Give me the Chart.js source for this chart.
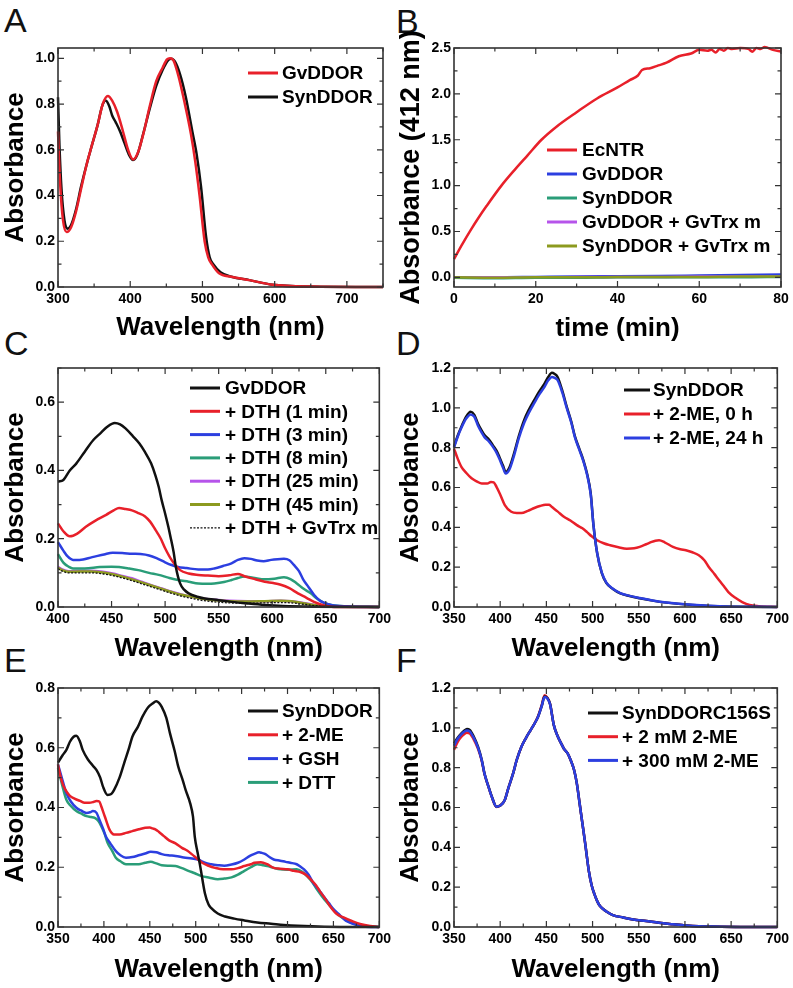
<!DOCTYPE html>
<html>
<head>
<meta charset="utf-8">
<script src="https://cdn.jsdelivr.net/npm/chart.js@4.4.1/dist/chart.umd.min.js"></script>
<style>
body{margin:0;background:#fff;width:793px;height:988px;position:relative;overflow:hidden;font-family:"Liberation Sans",Arial,sans-serif}
canvas{position:absolute}
.lbl{position:absolute;font-size:34px;line-height:34px;color:#111}
</style>
</head>
<body>
<div class="lbl" style="left:4px;top:3px">A</div>
<div class="lbl" style="left:396px;top:4px">B</div>
<div class="lbl" style="left:4px;top:326px">C</div>
<div class="lbl" style="left:396px;top:326px">D</div>
<div class="lbl" style="left:4px;top:643px">E</div>
<div class="lbl" style="left:396px;top:643px">F</div>
<canvas id="cA" width="395" height="345" style="left:0;top:0"></canvas>
<canvas id="cB" width="398" height="345" style="left:395px;top:0"></canvas>
<canvas id="cC" width="395" height="345" style="left:0;top:320px"></canvas>
<canvas id="cD" width="398" height="345" style="left:395px;top:320px"></canvas>
<canvas id="cE" width="395" height="348" style="left:0;top:640px"></canvas>
<canvas id="cF" width="398" height="348" style="left:395px;top:640px"></canvas>
<script>
// ---- panel A : GvDDOR vs SynDDOR spectra
const aGvWl  = [300,303,307,312,318,325,332,340,347,355,362,369,375,382,390,397,404,411,419,427,436,445,451,455,460,467,475,484,490,496,503,508,513,523,540,565,597,650,750];
const aGvAbs = [0.68,0.45,0.29,0.24,0.26,0.33,0.43,0.54,0.62,0.71,0.80,0.835,0.815,0.765,0.68,0.60,0.557,0.59,0.68,0.79,0.90,0.96,0.995,1.0,0.99,0.92,0.81,0.67,0.55,0.40,0.20,0.13,0.10,0.06,0.045,0.03,0.01,0.002,0.0];
const aSynWl  = [300,302,305,309,313,318,325,332,340,347,355,361,366,371,375,380,386,392,398,404,410,418,427,436,445,452,457,462,469,477,486,492,498,505,510,515,525,540,565,597,650,750];
const aSynAbs = [0.83,0.62,0.42,0.29,0.255,0.27,0.34,0.44,0.54,0.62,0.71,0.79,0.815,0.79,0.75,0.72,0.68,0.63,0.58,0.555,0.58,0.67,0.78,0.88,0.95,0.99,0.998,0.985,0.93,0.83,0.68,0.58,0.44,0.22,0.13,0.10,0.065,0.045,0.03,0.01,0.002,0.0];
const aXTicks = [300,400,500,600,700];
const aYTicks = [0,0.2,0.4,0.6,0.8,1.0];

// ---- panel B : DTNB reduction at 412 nm
const bTime   = [0,2,4,6,8,11.6,15,18,21.4,25,30,35,40,43,45,46,48,50,52,55,58,60,62,63,64,65,66,67,68,70,72,73,74,75,76,78,80];
const bEcNTR  = [0.20,0.36,0.51,0.65,0.78,1.0,1.18,1.33,1.5,1.64,1.8,1.95,2.07,2.15,2.2,2.26,2.28,2.31,2.34,2.41,2.44,2.48,2.47,2.48,2.45,2.49,2.47,2.5,2.49,2.5,2.49,2.46,2.5,2.49,2.51,2.48,2.46];
const bLowTime = [0,10,20,30,40,50,60,70,80];
const bGv      = [0.0,0.0,0.005,0.01,0.012,0.015,0.02,0.025,0.03];
const bSyn     = [-0.005,-0.01,-0.005,-0.005,0.0,0.0,0.0,0.0,0.005];
const bGvTrx   = [0.0,0.0,0.0,0.005,0.005,0.005,0.01,0.01,0.01];
const bSynTrx  = [0.0,-0.005,0.0,0.0,0.005,0.005,0.005,0.01,0.01];
const bXTicks = [0,20,40,60,80];
const bYTicks = [0,0.5,1.0,1.5,2.0,2.5];

// ---- panel C : GvDDOR + dithionite
const cGvWl  = [400,405,411,417,425,433,440,446,453,458,463,470,476,481,487,491,494,497,500,503,505,508,510,514,518,522,530,537,550,562,578,593,610,640,700];
const cGvAbs = [0.367,0.372,0.40,0.42,0.455,0.489,0.51,0.528,0.539,0.535,0.523,0.50,0.479,0.455,0.42,0.385,0.352,0.31,0.274,0.235,0.206,0.16,0.118,0.069,0.05,0.04,0.03,0.025,0.02,0.015,0.01,0.006,0.003,0.001,0.0];
const cDth1Wl  = [400,405,411,418,426,435,445,452,457,463,469,475,481,486,491,496,500,506,514,522,531,540,550,560,568,574,582,593,601,608,616,624,632,639,647,655,670,700];
const cDth1Abs = [0.245,0.222,0.207,0.215,0.235,0.253,0.27,0.283,0.29,0.287,0.283,0.275,0.266,0.25,0.226,0.2,0.172,0.138,0.108,0.098,0.094,0.092,0.09,0.093,0.097,0.09,0.083,0.074,0.07,0.065,0.055,0.04,0.027,0.015,0.006,0.001,0.0,0.0];
const cDth3Wl  = [400,405,409,414,420,432,443,451,460,469,477,485,492,500,506,512,520,531,540,546,554,562,568,574,580,586,592,599,605,611,616,620,625,629,634,639,644,648,655,669,700];
const cDth3Abs = [0.19,0.165,0.148,0.138,0.138,0.146,0.154,0.159,0.158,0.156,0.155,0.151,0.143,0.131,0.123,0.117,0.114,0.11,0.11,0.113,0.12,0.128,0.138,0.143,0.141,0.136,0.134,0.138,0.14,0.141,0.137,0.124,0.105,0.08,0.058,0.036,0.02,0.013,0.006,0.002,0.0];
const cDth8Wl  = [400,405,410,414,425,439,450,457,466,475,485,494,503,512,522,531,540,546,555,562,568,574,582,593,602,611,617,623,629,636,642,648,655,663,700];
const cDth8Abs = [0.155,0.13,0.118,0.113,0.113,0.117,0.118,0.117,0.113,0.108,0.1,0.094,0.086,0.079,0.074,0.069,0.068,0.069,0.073,0.079,0.085,0.089,0.086,0.081,0.083,0.087,0.082,0.069,0.054,0.04,0.024,0.013,0.006,0.003,0.0];
const cLateWl   = [400,404,410,420,430,440,451,460,469,478,487,497,506,515,525,535,546,560,577,593,608,618,629,640,655,700];
const cDth25Abs = [0.118,0.11,0.105,0.106,0.106,0.104,0.098,0.091,0.084,0.074,0.064,0.054,0.045,0.037,0.03,0.025,0.021,0.018,0.017,0.017,0.018,0.017,0.012,0.006,0.002,0.0];
const cDth45Abs = [0.115,0.108,0.103,0.104,0.104,0.102,0.096,0.089,0.081,0.072,0.063,0.053,0.044,0.036,0.03,0.024,0.02,0.017,0.016,0.017,0.018,0.017,0.011,0.005,0.002,0.0];
const cTrxAbs   = [0.112,0.105,0.1,0.1,0.1,0.098,0.092,0.085,0.077,0.068,0.059,0.049,0.04,0.032,0.025,0.019,0.015,0.012,0.011,0.012,0.013,0.012,0.008,0.004,0.001,0.0];
const cXTicks = [400,450,500,550,600,650,700];
const cYTicks = [0,0.2,0.4,0.6];

// ---- panel D : SynDDOR + 2-ME
const dSynWl  = [350,354,358,363,368,372,376,380,383,388,392,396,399,403,406,410,415,420,426,431,437,442,448,452,456,459,462,467,472,477,481,486,490,494,498,501,505,510,515,522,530,540,551,565,580,608,644,700];
const dSynAbs = [0.805,0.86,0.905,0.955,0.98,0.965,0.92,0.885,0.863,0.84,0.813,0.785,0.755,0.71,0.678,0.7,0.771,0.855,0.939,0.99,1.04,1.08,1.122,1.155,1.176,1.17,1.156,1.09,1.006,0.93,0.855,0.79,0.738,0.67,0.57,0.41,0.27,0.17,0.12,0.09,0.068,0.055,0.044,0.032,0.022,0.01,0.002,0.0];
const dMe24Abs = [0.80,0.855,0.9,0.945,0.967,0.955,0.91,0.875,0.853,0.83,0.805,0.775,0.745,0.7,0.67,0.69,0.76,0.845,0.925,0.975,1.025,1.065,1.105,1.138,1.155,1.15,1.14,1.08,1.0,0.925,0.85,0.785,0.733,0.665,0.565,0.41,0.27,0.172,0.122,0.092,0.07,0.056,0.045,0.033,0.023,0.011,0.003,0.0];
const dMe0Wl  = [350,354,358,363,369,375,380,386,390,393,396,400,405,412,418,423,430,437,443,449,453,456,462,469,476,483,489,494,499,505,512,519,528,537,545,551,558,564,568,572,578,587,595,601,608,615,621,626,632,637,642,647,655,662,670,680,700];
const dMe0Abs = [0.795,0.745,0.704,0.675,0.646,0.63,0.62,0.62,0.628,0.626,0.603,0.565,0.512,0.478,0.472,0.472,0.483,0.497,0.507,0.514,0.513,0.502,0.48,0.453,0.434,0.411,0.395,0.376,0.355,0.335,0.32,0.31,0.3,0.293,0.295,0.302,0.315,0.327,0.333,0.335,0.325,0.302,0.29,0.285,0.275,0.26,0.235,0.2,0.165,0.134,0.105,0.075,0.045,0.025,0.01,0.004,0.0];
const dXTicks = [350,400,450,500,550,600,650,700];
const dYTicks = [0,0.2,0.4,0.6,0.8,1.0,1.2];

// ---- panel E : SynDDOR + reductants
const eSynWl  = [350,355,359,363,367,370,374,377,383,388,392,396,399,404,408,411,417,422,427,431,437,442,448,453,457,460,463,468,472,477,481,486,489,494,497,499,502,505,510,514,517,524,532,542,553,567,582,596,611,640,700];
const eSynAbs = [0.55,0.575,0.592,0.62,0.637,0.64,0.62,0.592,0.559,0.54,0.525,0.5,0.47,0.442,0.445,0.458,0.5,0.548,0.595,0.637,0.67,0.704,0.735,0.748,0.756,0.75,0.737,0.7,0.648,0.59,0.537,0.49,0.459,0.414,0.37,0.302,0.25,0.202,0.113,0.075,0.063,0.045,0.035,0.028,0.022,0.015,0.011,0.007,0.004,0.001,0.0];
const eMeWl  = [350,353,356,360,363,368,374,379,384,388,392,395,397,401,406,411,417,424,431,438,445,450,453,456,460,465,471,478,485,491,496,501,507,514,521,530,539,546,553,560,564,571,578,585,592,600,607,614,620,625,631,636,641,646,653,661,670,679,690,700];
const eMeAbs = [0.544,0.5,0.472,0.45,0.439,0.43,0.422,0.416,0.416,0.418,0.422,0.42,0.405,0.37,0.327,0.31,0.31,0.315,0.321,0.327,0.332,0.333,0.33,0.327,0.318,0.305,0.29,0.28,0.265,0.255,0.243,0.23,0.215,0.205,0.198,0.193,0.193,0.197,0.204,0.21,0.215,0.217,0.21,0.198,0.195,0.193,0.188,0.184,0.175,0.16,0.14,0.116,0.095,0.071,0.045,0.032,0.02,0.01,0.003,0.0];
const eGshWl  = [350,355,359,364,370,375,381,385,388,392,395,399,402,407,413,418,424,431,438,445,451,457,463,470,478,487,496,503,510,517,524,531,539,546,553,559,564,569,572,576,580,585,592,598,603,610,615,618,623,628,634,639,645,650,657,664,672,682,700];
const eGshAbs = [0.544,0.49,0.449,0.42,0.399,0.39,0.382,0.384,0.388,0.382,0.36,0.33,0.304,0.28,0.254,0.24,0.232,0.234,0.24,0.246,0.252,0.25,0.244,0.24,0.238,0.233,0.229,0.225,0.215,0.21,0.207,0.205,0.209,0.215,0.226,0.238,0.245,0.25,0.248,0.244,0.235,0.226,0.222,0.218,0.215,0.21,0.2,0.193,0.175,0.148,0.125,0.104,0.08,0.06,0.04,0.02,0.01,0.002,0.0];
const eDttWl  = [350,355,359,364,370,375,381,386,390,394,397,401,404,409,413,418,424,431,438,445,451,457,463,470,478,485,492,499,506,515,524,531,539,546,553,560,567,573,578,585,592,600,610,616,621,627,632,637,643,650,657,666,675,688,700];
const eDttAbs = [0.533,0.47,0.427,0.405,0.388,0.38,0.371,0.368,0.365,0.355,0.338,0.31,0.282,0.255,0.232,0.22,0.21,0.21,0.21,0.215,0.218,0.213,0.207,0.205,0.204,0.197,0.188,0.18,0.171,0.165,0.16,0.162,0.166,0.175,0.188,0.2,0.21,0.207,0.204,0.198,0.193,0.192,0.193,0.185,0.171,0.15,0.126,0.105,0.082,0.058,0.037,0.02,0.009,0.002,0.0];
const eYTicks = [0,0.2,0.4,0.6,0.8];

// ---- panel F : SynDDOR C156S + 2-ME
const fWl = [350,354,358,361,364,367,371,376,380,383,387,391,396,400,405,409,414,418,423,428,433,437,441,445,448,451,454,458,462,466,469,473,477,480,483,486,489,492,496,499,502,505,508,515,522,533,544,558,572,587,601,615,630,660,700];
const fSynAbs   = [0.922,0.95,0.972,0.985,0.994,0.99,0.96,0.905,0.84,0.771,0.71,0.654,0.604,0.61,0.638,0.7,0.771,0.84,0.905,0.95,0.989,1.02,1.056,1.11,1.157,1.15,1.12,1.015,0.96,0.922,0.895,0.872,0.83,0.788,0.72,0.62,0.52,0.42,0.28,0.21,0.165,0.13,0.105,0.078,0.06,0.048,0.038,0.03,0.021,0.014,0.008,0.004,0.002,0.0,0.0];
const fMe2Abs   = [0.89,0.93,0.955,0.968,0.975,0.972,0.945,0.895,0.835,0.768,0.708,0.652,0.603,0.61,0.638,0.7,0.771,0.84,0.905,0.95,0.989,1.02,1.058,1.115,1.163,1.152,1.12,1.015,0.96,0.922,0.895,0.872,0.83,0.788,0.72,0.62,0.52,0.42,0.28,0.21,0.165,0.13,0.105,0.078,0.06,0.048,0.038,0.03,0.021,0.014,0.008,0.004,0.002,0.0,0.0];
const fMe300Abs = [0.91,0.945,0.968,0.98,0.986,0.982,0.953,0.9,0.838,0.77,0.709,0.653,0.604,0.61,0.638,0.7,0.771,0.84,0.905,0.95,0.989,1.02,1.056,1.11,1.155,1.148,1.118,1.015,0.96,0.922,0.895,0.872,0.83,0.788,0.72,0.62,0.52,0.42,0.28,0.21,0.165,0.13,0.105,0.078,0.06,0.048,0.038,0.03,0.021,0.014,0.008,0.004,0.002,0.0,0.0];

const RED = '#e8202a', BLACK = '#111111', BLUE = '#2c3fe0', TEAL = '#2a9d78', PURPLE = '#b654ea', OLIVE = '#8c9a1f';
const FONT = '"Liberation Sans", Arial, Helvetica, sans-serif';
Chart.defaults.font.family = FONT;

// inward major + minor ticks on all four sides, plus the frame
const frameTicks = {
    id: 'frameTicks',
    afterDraw(chart)
    {
        const ctx = chart.ctx, a = chart.chartArea;
        const sx = chart.scales.x, sy = chart.scales.y;
        ctx.save();
        ctx.strokeStyle = '#333';
        ctx.lineWidth = 1.2;

        function withMinors(scale)
        {
            const v = scale.ticks.map(t => t.value);
            let out = v.map(x => ({v: x, major: true}));
            const step = v[1] - v[0];
            for (let i = -1; i < v.length; i++)
            {
                const m = v[0] + (i + 0.5) * step;
                if (m >= scale.min - 1e-9 && m <= scale.max + 1e-9) out.push({v: m, major: false});
            }
            return out;
        }

        ctx.beginPath();
        withMinors(sx).forEach(t => {
            const px = sx.getPixelForValue(t.v), len = t.major ? 6 : 3.5;
            ctx.moveTo(px, a.bottom); ctx.lineTo(px, a.bottom - len);
            ctx.moveTo(px, a.top);    ctx.lineTo(px, a.top + len);
        });
        withMinors(sy).forEach(t => {
            const py = sy.getPixelForValue(t.v), len = t.major ? 6 : 3.5;
            ctx.moveTo(a.left, py);  ctx.lineTo(a.left + len, py);
            ctx.moveTo(a.right, py); ctx.lineTo(a.right - len, py);
        });
        ctx.stroke();

        ctx.lineWidth = 1.6;
        ctx.strokeRect(a.left, a.top, a.right - a.left, a.bottom - a.top);
        ctx.restore();
    }
};

// legend drawn inside the plot box
const boxLegend = {
    id: 'boxLegend',
    afterDraw(chart, args, o)
    {
        const ctx = chart.ctx, a = chart.chartArea;
        ctx.save();
        ctx.font = 'bold 19px ' + FONT;
        ctx.textBaseline = 'middle';
        ctx.fillStyle = '#000';
        chart.data.datasets.forEach((ds, i) => {
            const x = a.left + o.x, y = a.top + o.y + i * o.row;
            ctx.beginPath();
            ctx.strokeStyle = ds.borderColor;
            if (ds.borderDash.length) { ctx.lineWidth = 1.2; ctx.setLineDash([2, 1.5]); }
            else { ctx.lineWidth = 3; ctx.setLineDash([]); }
            ctx.moveTo(x, y); ctx.lineTo(x + o.line, y);
            ctx.stroke();
            ctx.fillText(ds.label, x + o.line + o.gap, y + 1);
        });
        ctx.restore();
    }
};

function panel(id, cfg)
{
    const datasets = cfg.series.map(s => ({
        label: s.label,
        data: s.x.map((x, i) => ({x: x, y: s.y[i]})),
        borderColor: s.color,
        borderWidth: s.dash ? 1.3 : 2.5,
        borderDash: s.dash ? [2, 1.5] : [],
        order: s.order,
        pointRadius: 0,
        showLine: true,
        cubicInterpolationMode: 'monotone',
        clip: 4
    }));
    const tickFont = {size: 14, weight: 'bold'};
    const titleFont = {size: 26, weight: 'bold'};

    return new Chart(document.getElementById(id), {
        type: 'scatter',
        data: { datasets: datasets },
        plugins: [frameTicks, boxLegend],
        options: {
            responsive: false,
            animation: false,
            devicePixelRatio: 1,
            layout: { padding: { top: 48, right: cfg.padRight, left: 0, bottom: 0 } },
            plugins: {
                legend: { display: false },
                tooltip: { enabled: false },
                boxLegend: cfg.legend
            },
            scales: {
                x: {
                    type: 'linear', min: cfg.xMin, max: cfg.xMax,
                    grid: { display: false, drawTicks: false },
                    border: { display: false },
                    ticks: { font: tickFont, color: '#000', padding: 4, maxRotation: 0,
                             callback: v => String(v) },
                    afterBuildTicks: s => { s.ticks = cfg.xTicks.map(v => ({value: v})); },
                    afterFit: s => { s.height = cfg.xH; },
                    title: { display: true, text: cfg.xTitle, font: titleFont, color: '#000',
                             padding: { top: 0, bottom: cfg.xTitlePad } }
                },
                y: {
                    type: 'linear', min: cfg.yMin, max: cfg.yMax,
                    grid: { display: false, drawTicks: false },
                    border: { display: false },
                    ticks: { font: tickFont, color: '#000', padding: 3,
                             callback: v => v.toFixed(1) },
                    afterBuildTicks: s => { s.ticks = cfg.yTicks.map(v => ({value: v})); },
                    afterFit: s => { s.width = cfg.yW; },
                    title: { display: true, text: cfg.yTitle, font: {size: cfg.yTitleSize || 26, weight: 'bold'},
                             color: '#000', padding: { top: 0, bottom: 0 } }
                }
            }
        }
    });
}

panel('cA', {
    xMin: 300, xMax: 750, xTicks: aXTicks, yMin: 0, yMax: 1.045, yTicks: aYTicks,
    xTitle: 'Wavelength (nm)', yTitle: 'Absorbance', yW: 58, xH: 58, padRight: 12, xTitlePad: 2,
    legend: { x: 190, y: 25, row: 24, line: 30, gap: 4 },
    series: [
        { label: 'GvDDOR',  x: aGvWl,  y: aGvAbs,  color: RED,   order: 0 },
        { label: 'SynDDOR', x: aSynWl, y: aSynAbs, color: BLACK, order: 1 }
    ]
});

panel('cB', {
    xMin: 0, xMax: 80, xTicks: bXTicks, yMin: -0.105, yMax: 2.5, yTicks: bYTicks,
    xTitle: 'time (min)', yTitle: 'Absorbance (412 nm)', yTitleSize: 27, yW: 59, xH: 58, padRight: 12, xTitlePad: 1,
    legend: { x: 93, y: 102, row: 24, line: 30, gap: 5 },
    series: [
        { label: 'EcNTR',              x: bTime,    y: bEcNTR,  color: RED,    order: 0 },
        { label: 'GvDDOR',             x: bLowTime, y: bGv,     color: BLUE,   order: 4 },
        { label: 'SynDDOR',            x: bLowTime, y: bSyn,    color: TEAL,   order: 2 },
        { label: 'GvDDOR + GvTrx m',   x: bLowTime, y: bGvTrx,  color: PURPLE, order: 3 },
        { label: 'SynDDOR + GvTrx m',  x: bLowTime, y: bSynTrx, color: OLIVE,  order: 1 }
    ]
});

panel('cC', {
    xMin: 400, xMax: 700, xTicks: cXTicks, yMin: 0, yMax: 0.7, yTicks: cYTicks,
    xTitle: 'Wavelength (nm)', yTitle: 'Absorbance', yW: 58, xH: 58, padRight: 12, xTitlePad: 1,
    legend: { x: 132, y: 20, row: 23.3, line: 30, gap: 5 },
    series: [
        { label: 'GvDDOR',            x: cGvWl,   y: cGvAbs,    color: BLACK,  order: 0 },
        { label: '+ DTH (1 min)',     x: cDth1Wl, y: cDth1Abs,  color: RED,    order: 1 },
        { label: '+ DTH (3 min)',     x: cDth3Wl, y: cDth3Abs,  color: BLUE,   order: 2 },
        { label: '+ DTH (8 min)',     x: cDth8Wl, y: cDth8Abs,  color: TEAL,   order: 3 },
        { label: '+ DTH (25 min)',    x: cLateWl, y: cDth25Abs, color: PURPLE, order: 6 },
        { label: '+ DTH (45 min)',    x: cLateWl, y: cDth45Abs, color: OLIVE,  order: 5 },
        { label: '+ DTH + GvTrx m',   x: cLateWl, y: cTrxAbs,   color: BLACK,  order: 4, dash: true }
    ]
});

panel('cD', {
    xMin: 350, xMax: 700, xTicks: dXTicks, yMin: 0, yMax: 1.2, yTicks: dYTicks,
    xTitle: 'Wavelength (nm)', yTitle: 'Absorbance', yW: 59, xH: 58, padRight: 12, xTitlePad: 1,
    legend: { x: 170, y: 22, row: 24, line: 26, gap: 3 },
    series: [
        { label: 'SynDDOR',        x: dSynWl, y: dSynAbs,  color: BLACK, order: 1 },
        { label: '+ 2-ME, 0 h',    x: dMe0Wl, y: dMe0Abs,  color: RED,   order: 2 },
        { label: '+ 2-ME, 24 h',   x: dSynWl, y: dMe24Abs, color: BLUE,  order: 0 }
    ]
});

panel('cE', {
    xMin: 350, xMax: 700, xTicks: dXTicks, yMin: 0, yMax: 0.8, yTicks: eYTicks,
    xTitle: 'Wavelength (nm)', yTitle: 'Absorbance', yW: 58, xH: 61, padRight: 12, xTitlePad: 3,
    legend: { x: 190, y: 23, row: 23.8, line: 30, gap: 4 },
    series: [
        { label: 'SynDDOR', x: eSynWl, y: eSynAbs, color: BLACK, order: 0 },
        { label: '+ 2-ME',  x: eMeWl,  y: eMeAbs,  color: RED,   order: 1 },
        { label: '+ GSH',   x: eGshWl, y: eGshAbs, color: BLUE,  order: 2 },
        { label: '+ DTT',   x: eDttWl, y: eDttAbs, color: TEAL,  order: 3 }
    ]
});

panel('cF', {
    xMin: 350, xMax: 700, xTicks: dXTicks, yMin: 0, yMax: 1.2, yTicks: dYTicks,
    xTitle: 'Wavelength (nm)', yTitle: 'Absorbance', yW: 59, xH: 61, padRight: 12, xTitlePad: 3,
    legend: { x: 134, y: 25, row: 23.7, line: 30, gap: 4 },
    series: [
        { label: 'SynDDORC156S',     x: fWl, y: fSynAbs,   color: BLACK, order: 1 },
        { label: '+ 2 mM 2-ME',      x: fWl, y: fMe2Abs,   color: RED,   order: 2 },
        { label: '+ 300 mM 2-ME',    x: fWl, y: fMe300Abs, color: BLUE,  order: 0 }
    ]
});
</script>
</body>
</html>
